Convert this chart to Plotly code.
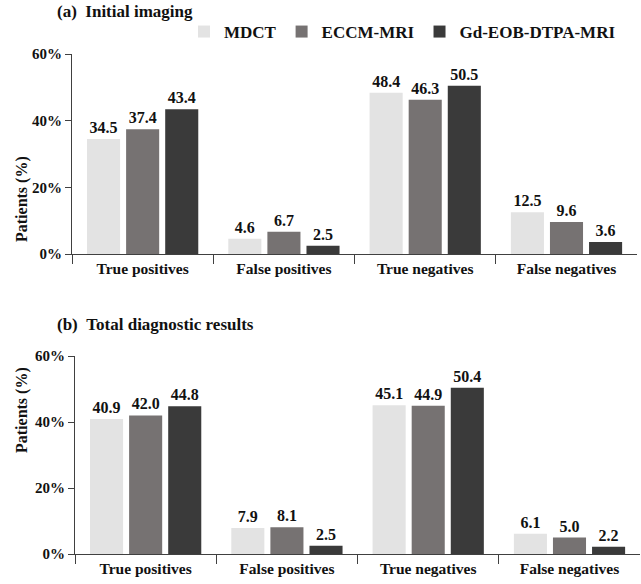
import plotly.graph_objects as go

categories = ["True positives", "False positives", "True negatives", "False negatives"]
series_names = ["MDCT", "ECCM-MRI", "Gd-EOB-DTPA-MRI"]
initial_mdct = [34.5, 4.6, 48.4, 12.5]
initial_eccm = [37.4, 6.7, 46.3, 9.6]
initial_gd = [43.4, 2.5, 50.5, 3.6]
total_mdct = [40.9, 7.9, 45.1, 6.1]
total_eccm = [42.0, 8.1, 44.9, 5.0]
total_gd = [44.8, 2.5, 50.4, 2.2]
y_ticks = [0, 20, 40, 60]
panel_titles = ["(a)\u00a0\u00a0Initial imaging", "(b)\u00a0\u00a0Total diagnostic results"]

colors = ["#e3e3e3", "#767272", "#3a3a3a"]
FONT = "Liberation Serif"
W, H = 641, 584

fig = go.Figure()

panels = [
    ([initial_mdct, initial_eccm, initial_gd], "x", "y", True),
    ([total_mdct, total_eccm, total_gd], "x2", "y2", False),
]
for vals_list, xa, ya, show in panels:
    for name, vals, col in zip(series_names, vals_list, colors):
        fig.add_trace(go.Bar(
            x=categories, y=vals, name=f"<b>{name}</b>", xaxis=xa, yaxis=ya,
            marker=dict(color=col, line=dict(width=0)),
            text=[f"{v:.1f}" for v in vals], textposition="outside",
            texttemplate="<b>%{text}</b>",
            textfont=dict(family=FONT, size=16, color="#111"),
            cliponaxis=False, showlegend=show,
        ))

def px_x(p):
    return p / W

def px_y(p):
    return 1 - p / H

axis_common = dict(showline=True, linecolor="#404040", linewidth=1,
                   ticks="outside", tickcolor="#404040",
                   showgrid=False, zeroline=False, automargin=False)

xcommon = dict(axis_common, type="category", tickson="boundaries",
               range=[-0.5, 3.499], ticklen=9,
               tickfont=dict(family=FONT, size=15.5, color="#111"))
ycommon = dict(axis_common, range=[0, 60], tickvals=y_ticks,
               ticktext=[f"<b>{t}%</b>" for t in y_ticks], ticklen=6,
               tickfont=dict(family=FONT, size=15, color="#111"))

fig.update_layout(
    width=W, height=H,
    margin=dict(l=0, r=0, t=0, b=0, autoexpand=False),
    paper_bgcolor="white", plot_bgcolor="white",
    barmode="group", bargap=0.17, bargroupgap=0.154,
    font=dict(family=FONT, color="#111"),
    xaxis=dict(xcommon, domain=[px_x(72), px_x(637)], anchor="y"),
    yaxis=dict(ycommon, domain=[px_y(254), px_y(54)], anchor="x"),
    xaxis2=dict(xcommon, domain=[px_x(75), px_x(640)], anchor="y2"),
    yaxis2=dict(ycommon, domain=[px_y(554), px_y(356)], anchor="x2"),
    legend=dict(orientation="h", x=px_x(184), y=px_y(32), xanchor="left",
                yanchor="middle", font=dict(family=FONT, size=17, color="#111"),
                bgcolor="rgba(0,0,0,0)", itemwidth=30),
    annotations=[
        dict(text=f"<b>{panel_titles[0]}</b>", x=px_x(55), y=px_y(12), xref="paper", yref="paper",
             xanchor="left", yanchor="middle", showarrow=False, font=dict(family=FONT, size=17)),
        dict(text=f"<b>{panel_titles[1]}</b>", x=px_x(55), y=px_y(325), xref="paper", yref="paper",
             xanchor="left", yanchor="middle", showarrow=False, font=dict(family=FONT, size=17)),
        dict(text="<b>Patients (%)</b>", x=px_x(11), y=px_y(154), xref="paper", yref="paper",
             textangle=-90, showarrow=False, font=dict(family=FONT, size=16)),
        dict(text="<b>Patients (%)</b>", x=px_x(11), y=px_y(455), xref="paper", yref="paper",
             textangle=-90, showarrow=False, font=dict(family=FONT, size=16)),
    ],
)

fig.update_xaxes(tickprefix="<b>", ticksuffix="</b>")

fig.write_html("out.html", config={"displayModeBar": False},
               post_script="document.body.style.margin='0';document.body.style.overflow='hidden';")
